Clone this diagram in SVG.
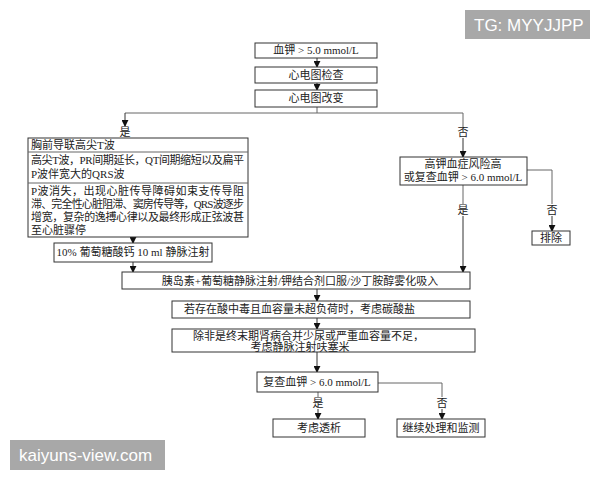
<svg xmlns="http://www.w3.org/2000/svg" width="600" height="480" viewBox="0 0 600 480">
<defs>
<marker id="ah" viewBox="0 0 8 8" refX="7" refY="4" markerWidth="7" markerHeight="7" markerUnits="userSpaceOnUse" orient="auto">
<path d="M0,0 L8,4 L0,8 z" fill="#111"/>
</marker>
<style>
.box{fill:#fff;stroke:#333;stroke-width:1}
.t{font-family:"Liberation Serif","Noto Sans CJK SC",serif;font-size:11px;fill:#222}
.c{text-anchor:middle}
.ln{fill:none;stroke:#666;stroke-width:1}
.ar{fill:none;stroke:#333;stroke-width:1;marker-end:url(#ah)}
.wm{fill:#a8a8a8}
.wt{font-family:"Liberation Sans","DejaVu Sans",sans-serif;font-size:17px;fill:#fff}
</style>
</defs>
<rect width="600" height="480" fill="#fff"/>

<g id="connectors">
<line class="ar" x1="317" y1="58" x2="317" y2="67"/>
<line class="ar" x1="317" y1="83" x2="317" y2="90"/>
<polyline class="ln" points="317,107 317,113 125,113"/>
<polyline class="ln" points="317,113 463,113 463,127"/>
<line class="ar" x1="125" y1="113" x2="125" y2="126"/>
<line class="ar" x1="463" y1="138" x2="463" y2="157"/>
<polyline class="ln" points="527,170 552,170 552,204"/>
<line class="ar" x1="552" y1="216" x2="552" y2="231"/>
<line class="ln" x1="463" y1="185" x2="463" y2="204"/>
<line class="ar" x1="463" y1="216" x2="463" y2="272"/>
<line class="ar" x1="133" y1="237" x2="133" y2="243"/>
<line class="ar" x1="133" y1="262" x2="133" y2="272"/>
<line class="ar" x1="317" y1="289" x2="317" y2="301"/>
<line class="ar" x1="317" y1="318" x2="317" y2="329"/>
<line class="ar" x1="317" y1="352" x2="317" y2="372"/>
<line class="ln" x1="318" y1="392" x2="318" y2="397"/>
<line class="ar" x1="318" y1="409" x2="318" y2="419"/>
<polyline class="ln" points="378,383 442,383 442,397"/>
<line class="ar" x1="442" y1="409" x2="442" y2="419"/>
<text class="t c" x="125" y="136">是</text>
<text class="t c" x="463" y="136">否</text>
<text class="t c" x="552" y="214">否</text>
<text class="t c" x="463" y="214">是</text>
<text class="t c" x="318" y="407">是</text>
<text class="t c" x="442" y="407">否</text>
</g>

<g id="n1"><rect class="box" x="255" y="43" width="122" height="15"/><text class="t c" x="316" y="54">血钾 &gt; 5.0 mmol/L</text></g>
<g id="n2"><rect class="box" x="255" y="67" width="122" height="16"/><text class="t c" x="316" y="79">心电图检查</text></g>
<g id="n3"><rect class="box" x="255" y="90" width="122" height="17"/><text class="t c" x="316" y="102">心电图改变</text></g>

<g id="n4">
<rect class="box" x="28" y="138" width="220" height="99"/>
<line class="ln" x1="28" y1="152" x2="248" y2="152" stroke="#333"/>
<line class="ln" x1="28" y1="183" x2="248" y2="183" stroke="#333"/>
<text class="t" x="31" y="149">胸前导联高尖T波</text>
<text class="t" x="31" y="164" textLength="213" lengthAdjust="spacing">高尖T波，PR间期延长，QT间期缩短以及扁平</text>
<text class="t" x="31" y="178">P波伴宽大的QRS波</text>
<text class="t" x="31" y="195" textLength="213" lengthAdjust="spacing">P波消失，出现心脏传导障碍如束支传导阻</text>
<text class="t" x="31" y="208" textLength="213" lengthAdjust="spacing">滞、完全性心脏阻滞、窦房传导等，QRS波逐步</text>
<text class="t" x="31" y="221" textLength="213" lengthAdjust="spacing">增宽，复杂的逸搏心律以及最终形成正弦波甚</text>
<text class="t" x="31" y="234">至心脏骤停</text>
</g>

<g id="n5"><rect class="box" x="54" y="243" width="158" height="19"/><text class="t c" x="133" y="256">10% 葡萄糖酸钙 10 ml 静脉注射</text></g>

<g id="n6"><rect class="box" x="400" y="157" width="127" height="28"/>
<text class="t c" x="463" y="168">高钾血症风险高</text>
<text class="t c" x="463" y="181">或复查血钾 &gt; 6.0 mmol/L</text></g>

<g id="n7"><rect class="box" x="532" y="231" width="38" height="14"/><text class="t c" x="551" y="242">排除</text></g>

<g id="n8"><rect class="box" x="122" y="272" width="348" height="17"/><text class="t c" x="300" y="285">胰岛素+葡萄糖静脉注射/钾结合剂口服/沙丁胺醇雾化吸入</text></g>

<g id="n9"><rect class="box" x="172" y="301" width="298" height="17"/><text class="t" x="184" y="313">若存在酸中毒且血容量未超负荷时，考虑碳酸盐</text></g>

<g id="n10"><rect class="box" x="172" y="329" width="303" height="23"/>
<text class="t" x="193" y="340">除非是终末期肾病合并少尿或严重血容量不足，</text>
<text class="t c" x="300" y="351">考虑静脉注射呋塞米</text></g>

<g id="n11"><rect class="box" x="257" y="372" width="121" height="20"/><text class="t c" x="317" y="386">复查血钾 &gt; 6.0 mmol/L</text></g>

<g id="n12"><rect class="box" x="273" y="419" width="92" height="18"/><text class="t c" x="319" y="432">考虑透析</text></g>
<g id="n13"><rect class="box" x="397" y="419" width="88" height="18"/><text class="t c" x="441" y="432">继续处理和监测</text></g>

<g id="wm1"><rect class="wm" x="465" y="10" width="125" height="29"/><text class="wt" x="474" y="31">TG: MYYJJPP</text></g>
<g id="wm2"><rect class="wm" x="10" y="440" width="155" height="30"/><text class="wt" x="19" y="461">kaiyuns-view.com</text></g>
</svg>
